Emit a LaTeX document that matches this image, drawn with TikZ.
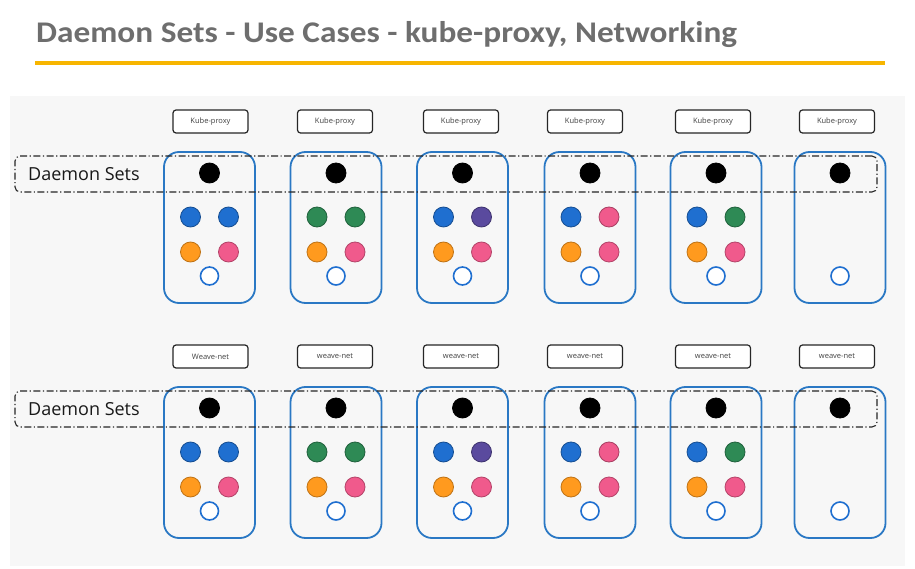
\documentclass[tikz,border=0pt]{standalone}
\usepackage{fontspec}
\setmainfont{Open Sans}
\newfontfamily\titlefont{Carlito}
\newfontfamily\labfont{Open Sans}
\definecolor{titlegray}{HTML}{6E6E6E}
\definecolor{rule}{HTML}{F7B500}
\definecolor{panel}{HTML}{F7F7F7}
\definecolor{podblue}{HTML}{2A78C4}
\definecolor{cblue}{HTML}{1F6FD0}
\definecolor{cgreen}{HTML}{2E8A55}
\definecolor{corange}{HTML}{FF9A1E}
\definecolor{cpink}{HTML}{F05A8C}
\definecolor{cpurple}{HTML}{5A4A9E}
\tikzset{
  pod/.style={draw=podblue, line width=1.8pt, rounded corners=15pt, minimum width=91pt, minimum height=151pt, inner sep=0pt},
  tag/.style={draw=black!85, fill=white, line width=1.2pt, rounded corners=3pt, minimum width=75pt, minimum height=23pt, inner sep=0pt, text=black!75, font=\labfont\fontsize{7.5}{9}\selectfont},
  dot/.style={circle, minimum size=20pt, inner sep=0pt, line width=0.8pt},
  hole/.style={circle, minimum size=18pt, inner sep=0pt, line width=1.6pt, draw=cblue, fill=white},
  dsbox/.style={draw=black!85, line width=1.1pt, rounded corners=5pt, dash pattern=on 7pt off 2.5pt on 1.2pt off 2.5pt, minimum width=862pt, minimum height=36pt, inner sep=0pt},
  dstext/.style={anchor=west, inner sep=0pt, text=black!90, font=\labfont\fontsize{18}{21}\selectfont}
}
\begin{document}
\begin{tikzpicture}[x=1pt, y=-1pt]
\useasboundingbox (0,0) rectangle (915,569);
\fill[white] (0,0) rectangle (915,569);
\fill[panel] (10,96) rectangle (905,566);
% title
\node[anchor=west, inner sep=0pt, text=titlegray, font=\titlefont\bfseries\fontsize{30}{34}\selectfont] (title) at (36,35) {\scalebox{1.11}[1]{Daemon Sets - Use Cases - kube-proxy, Networking}};
\draw[rule, line width=3.5pt] (35,63) coordinate (r1) -- (885,63) coordinate (r2);
% pods
\foreach \r/\dy in {T/0, B/235} {
  \foreach \i/\x/\ca/\cb in {1/209.5/cblue/cblue, 2/336/cgreen/cgreen, 3/462.5/cblue/cpurple, 4/590/cblue/cpink, 5/716/cblue/cgreen} {
    \node[pod] (pod\r\i) at (\x,227.5+\dy) {};
    \node[dot, fill=black, draw=black] (k\r\i) at (\x,173+\dy) {};
    \node[dot, fill=\ca, draw=\ca!70!black] (a\r\i) at (\x-19,217+\dy) {};
    \node[dot, fill=\cb, draw=\cb!70!black] (b\r\i) at (\x+19,217+\dy) {};
    \node[dot, fill=corange, draw=corange!75!black] (c\r\i) at (\x-19,252+\dy) {};
    \node[dot, fill=cpink, draw=cpink!75!black] (d\r\i) at (\x+19,252+\dy) {};
    \node[hole] (h\r\i) at (\x,276+\dy) {};
  }
  \node[pod] (pod\r6) at (840,227.5+\dy) {};
  \node[dot, fill=black, draw=black] (k\r6) at (840,173+\dy) {};
  \node[hole] (h\r6) at (840,276+\dy) {};
  \node[dsbox] (ds\r) at (446,174+\dy) {};
  \node[dstext] (dst\r) at (28,174+\dy) {Daemon Sets};
}
% labels
\foreach \i/\x in {1/210.5, 2/335, 3/461, 4/585, 5/713, 6/837} {
  \node[tag] (tagT\i) at (\x,121.5) {Kube-proxy};
}
\node[tag] (tagB1) at (210.5,356.5) {Weave-net};
\foreach \i/\x in {2/335, 3/461, 4/585, 5/713, 6/837} {
  \node[tag] (tagB\i) at (\x,356.5) {weave-net};
}
\end{tikzpicture}
\end{document}
